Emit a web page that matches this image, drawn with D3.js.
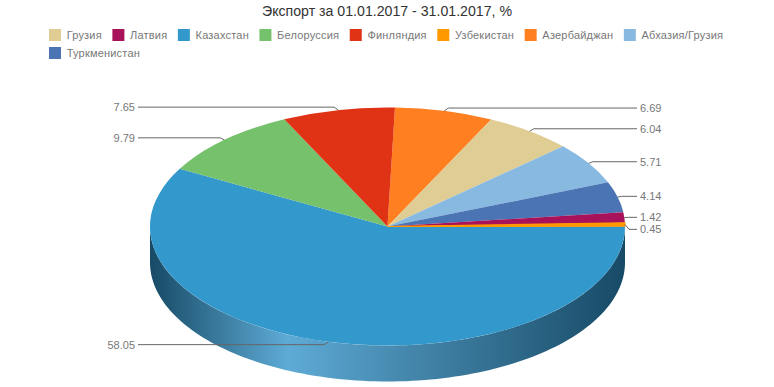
<!DOCTYPE html>
<html>
<head>
<meta charset="utf-8">
<script src="https://cdnjs.cloudflare.com/ajax/libs/d3/7.8.5/d3.min.js"></script>
<style>
    html, body { margin: 0; background: #fff; }
    text { font-family: "Liberation Sans", Arial, sans-serif; }
</style>
</head>
<body>
<svg id="chart" width="774" height="387"></svg>
<script>
const titleText = "Экспорт за 01.01.2017 - 31.01.2017, %";

// legend order
const legendNames = ["Грузия", "Латвия", "Казахстан", "Белоруссия", "Финляндия", "Узбекистан", "Азербайджан", "Абхазия/Грузия", "Туркменистан"];
const legendColors = ["#dfcd94", "#a8125a", "#3398cc", "#76c16b", "#e03316", "#ff9900", "#ff7f21", "#88b9e1", "#4a74b4"];

// order round the pie, clockwise
const sliceNames = ["Азербайджан", "Грузия", "Абхазия/Грузия", "Туркменистан", "Латвия", "Узбекистан", "Казахстан", "Белоруссия", "Финляндия"];
const sliceValues = [6.69, 6.04, 5.71, 4.14, 1.42, 0.45, 58.05, 9.79, 7.65];

const width = 774, height = 387;
const cx = 387.5, cy = 226.5, rx = 237.5, ry = 119, depth = 36;
const startAngle = 1.8 * Math.PI / 180;

const svg = d3.select("#chart");
const color = d3.scaleOrdinal().domain(legendNames).range(legendColors);

svg.append("text")
    .attr("x", width / 2)
    .attr("y", 16)
    .attr("text-anchor", "middle")
    .attr("font-size", 14)
    .attr("fill", "#333")
    .attr("textLength", 250)
    .attr("lengthAdjust", "spacingAndGlyphs")
    .text(titleText);

// legend, flows into rows like the original
const legend = svg.append("g");
let lx = 49, ly = 29;
legendNames.forEach(name => {
    const item = legend.append("g");
    item.append("rect")
        .attr("x", 0).attr("y", 0)
        .attr("width", 12).attr("height", 12)
        .attr("fill", color(name));
    const t = item.append("text")
        .attr("x", 17.7).attr("y", 10)
        .attr("font-size", 11)
        .attr("letter-spacing", 0.2)
        .attr("fill", "#777")
        .text(name);
    const w = 17.7 + t.node().getComputedTextLength();
    if (lx + w > 730) { lx = 49; ly += 18; }
    item.attr("transform", `translate(${lx},${ly})`);
    lx += w + 10.5;
});

const pie = d3.pie().sort(null).startAngle(startAngle).endAngle(startAngle + 2 * Math.PI);
const arcs = pie(sliceValues).map((d, i) => ({...d, name: sliceNames[i], value: sliceValues[i]}));

// angle (clockwise from top) -> point on the ellipse
const px = (a, k = 0) => cx + (rx + k) * Math.sin(a);
const py = (a, k = 0) => cy - (ry + k) * Math.cos(a);

// side wall, only the front half shows
const defs = svg.append("defs");
const grad = defs.append("linearGradient")
    .attr("id", "side")
    .attr("gradientUnits", "userSpaceOnUse")
    .attr("x1", cx - rx).attr("x2", cx + rx).attr("y1", 0).attr("y2", 0);
grad.append("stop").attr("offset", "0").attr("stop-color", "#174a66");
grad.append("stop").attr("offset", "0.29").attr("stop-color", "#5eabd6");
grad.append("stop").attr("offset", "0.6").attr("stop-color", "#3f7fa3");
grad.append("stop").attr("offset", "1").attr("stop-color", "#174a66");

arcs.forEach(d => {
    const a0 = Math.max(d.startAngle, Math.PI / 2);
    const a1 = Math.min(d.endAngle, 3 * Math.PI / 2);
    if (a1 <= a0) return;
    const p = d3.path();
    p.moveTo(px(a0), py(a0));
    p.lineTo(px(a0), py(a0) + depth);
    const steps = 120;
    d3.range(1, steps + 1).forEach(i => {
        const a = a0 + (a1 - a0) * i / steps;
        p.lineTo(px(a), py(a) + depth);
    });
    p.lineTo(px(a1), py(a1));
    d3.range(1, steps + 1).forEach(i => {
        const a = a1 - (a1 - a0) * i / steps;
        p.lineTo(px(a), py(a));
    });
    p.closePath();
    svg.append("path").attr("d", p.toString()).attr("fill", "url(#side)");
});

// top face: a circle pie squashed into an ellipse
// very thin slices get a stroke and go on top, otherwise they vanish at the tip
const arcGen = d3.arc().innerRadius(0).outerRadius(rx);
const thin = d => d.value < 1;
svg.append("g")
    .attr("transform", `translate(${cx},${cy}) scale(1,${ry / rx})`)
    .selectAll("path")
    .data([...arcs.filter(d => !thin(d)), ...arcs.filter(thin)])
    .join("path")
    .attr("d", arcGen)
    .attr("fill", d => color(d.name))
    .attr("stroke", d => thin(d) ? color(d.name) : "none")
    .attr("stroke-width", 1.2)
    .attr("vector-effect", "non-scaling-stroke");

// labels with connectors
const labels = arcs.map(d => {
    const mid = (d.startAngle + d.endAngle) / 2;
    const right = Math.sin(mid) > 0;
    return {...d, mid, right, ex: px(mid), ey: py(mid), y: py(mid, 3)};
});
// push colliding labels on the right side apart
const rightLabels = labels.filter(d => d.right).sort((a, b) => a.y - b.y);
rightLabels.forEach((d, i) => {
    if (i > 0 && d.y - rightLabels[i - 1].y < 12) d.y = rightLabels[i - 1].y + 12;
});

const line = d3.line();
const labelG = svg.append("g");
labels.forEach(d => {
    const tx = d.right ? 637 : 138;
    const s = d.right ? 1 : -1;
    labelG.append("path")
        .attr("d", line([[d.ex, d.ey], [d.ex + s * 4, d.y], [tx, d.y]]))
        .attr("fill", "none")
        .attr("stroke", "#666")
        .attr("stroke-width", 1);
    labelG.append("text")
        .attr("x", tx + s * 3)
        .attr("y", d.y + 4)
        .attr("text-anchor", d.right ? "start" : "end")
        .attr("font-size", 11)
        .attr("fill", "#777")
        .text(d.value.toFixed(2));
});
</script>
</body>
</html>
